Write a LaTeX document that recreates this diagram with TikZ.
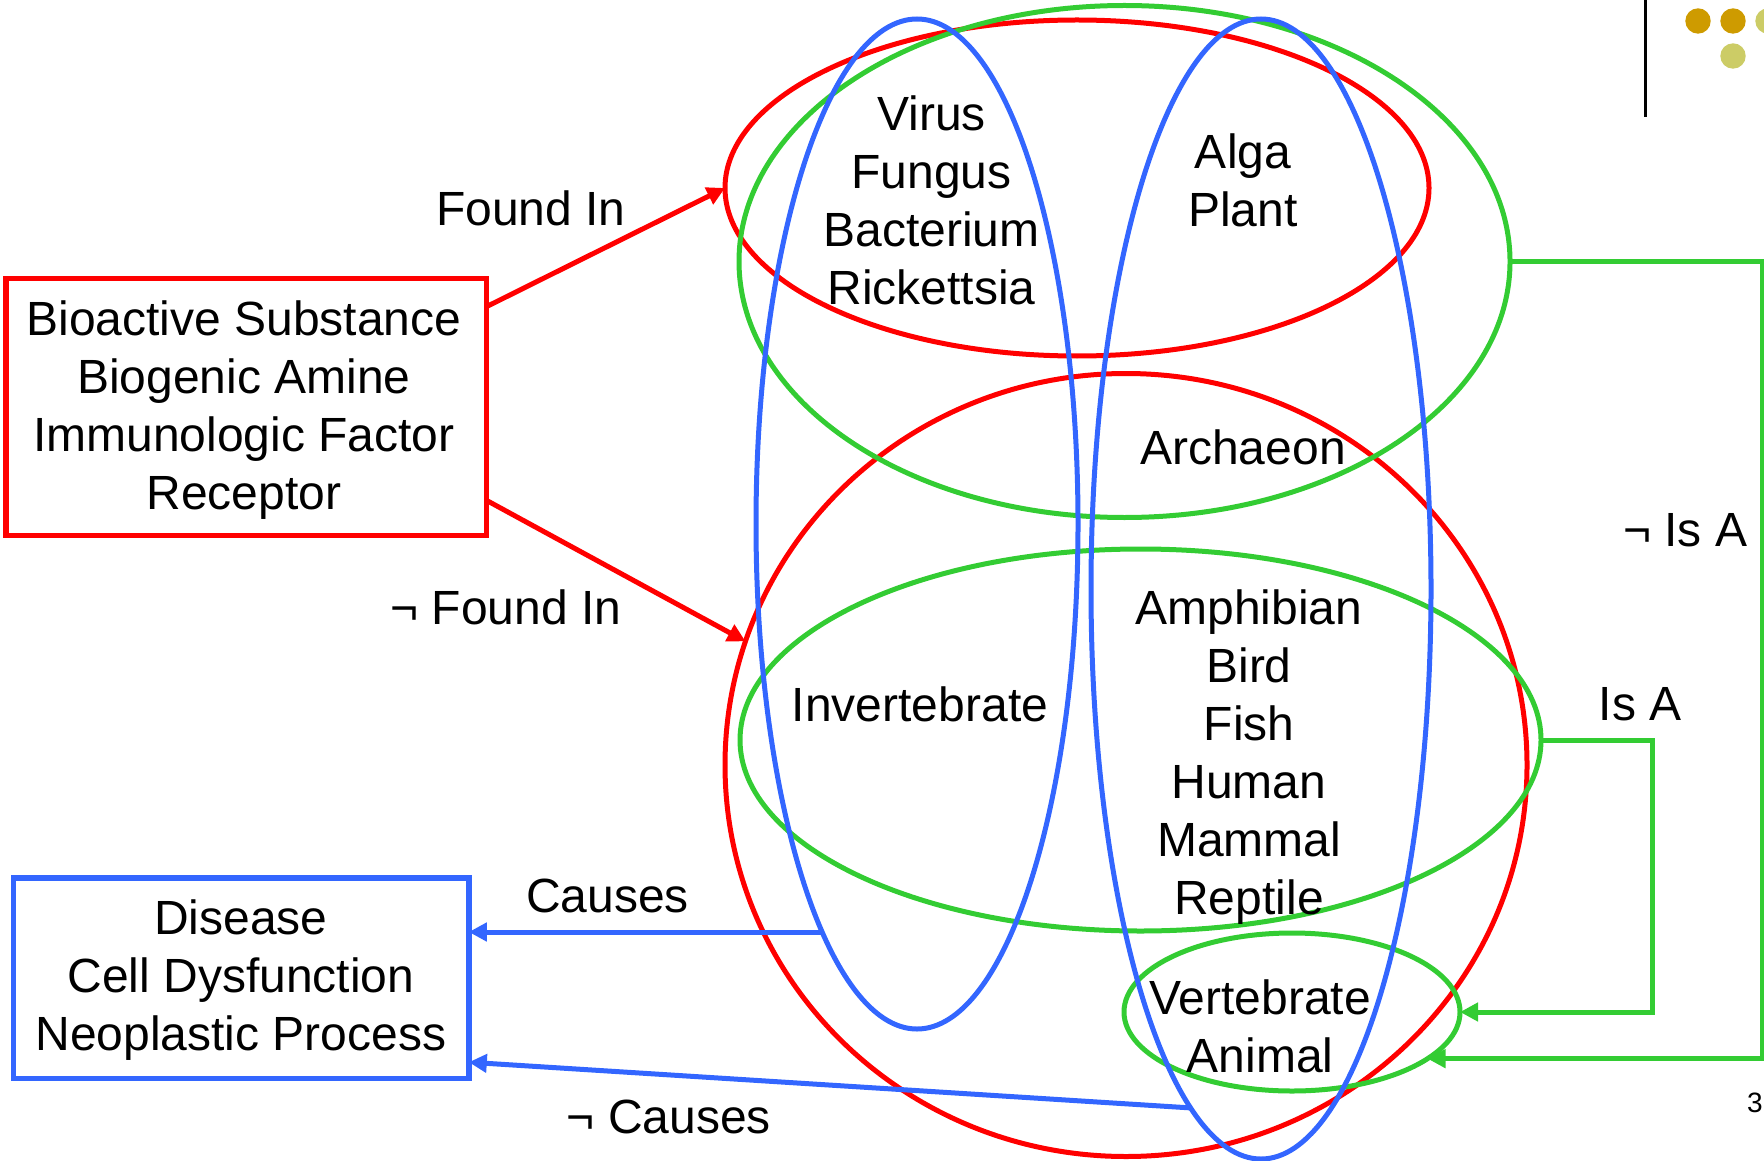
\documentclass[tikz,border=0pt]{standalone}
\usepackage{fontspec}
\setmainfont{Liberation Sans}
\usetikzlibrary{shapes.geometric,arrows.meta}
\definecolor{cred}{RGB}{255,0,0}
\definecolor{cblue}{RGB}{51,102,255}
\definecolor{cgreen}{RGB}{51,204,51}
\definecolor{cgold}{RGB}{206,155,0}
\definecolor{clight}{RGB}{204,204,102}
\tikzset{
  set/.style={ellipse, draw, line width=2.5pt, inner sep=0pt, outer sep=0pt},
  box/.style={draw, line width=2.7pt, inner sep=0pt, outer sep=0pt, align=center},
  txt/.style={align=center, inner sep=0pt, font=\fontsize{24}{29}\selectfont},
  conn/.style={line width=2.5pt, -{Triangle[length=9pt,width=9pt]}},
  dot/.style={circle, inner sep=0pt, minimum size=12.7pt},
}
\begin{document}
\begin{tikzpicture}[x=0.5pt,y=-0.5pt]
\useasboundingbox (0,0) rectangle (1764,1160);
% sets
\node[set, cred, minimum width=352pt, minimum height=168pt] (redtop) at (1077,188) {};
\node[set, cred, minimum width=401pt, minimum height=391.5pt] (redbig) at (1126,765) {};
\node[set, cgreen, minimum width=385.5pt, minimum height=256pt] (gtop) at (1124.5,261.5) {};
\node[set, cgreen, minimum width=400.5pt, minimum height=191pt] (gmid) at (1140.5,740) {};
\node[set, cgreen, minimum width=168pt, minimum height=79pt] (gsmall) at (1292,1012) {};
\node[set, cblue, minimum width=161pt, minimum height=505pt] (blueL) at (917,524) {};
\node[set, cblue, minimum width=170pt, minimum height=570pt] (blueR) at (1261,589) {};
% set contents
\node[txt] (t1) at (931.5,200.5) {Virus\\Fungus\\Bacterium\\Rickettsia};
\node[txt] (t2) at (1243,180) {Alga\\Plant};
\node[txt] (t3) at (1243,447) {Archaeon};
\node[txt] (t4) at (920,704) {Invertebrate};
\node[txt] (t5) at (1249,757) {Amphibian\\Bird\\Fish\\Human\\Mammal\\Reptile};
\node[txt] (t6) at (1260,1026.5) {Vertebrate\\Animal};
% boxes
\node[box, cred, minimum width=240.2pt, minimum height=128.2pt] (rbox) at (246,407) {};
\node[txt] (rboxt) at (244,410.5) {Bioactive Substance\\Biogenic Amine\\Immunologic Factor\\Receptor};
\node[box, cblue, minimum width=227.8pt, minimum height=100.2pt] (bbox) at (241,978) {};
\node[txt] (bboxt) at (241,980.5) {Disease\\Cell Dysfunction\\Neoplastic Process};
% connector end points on the sets
\coordinate (cStart) at ([shift={(-95,408)}]blueL.center);
\coordinate (ncStart) at ([shift={(-69,519)}]blueR.center);
\coordinate (farR) at (1762,0);
\coordinate (midR) at (1652,0);
% connectors
\draw[conn, cred] ([yshift=-14pt]rbox.north east) -- (redtop.west);
\draw[conn, cred] ([yshift=17.5pt]rbox.south east) -- (redbig.162);
\draw[conn, cblue] (cStart) -- (cStart -| bbox.east);
\draw[conn, cblue] (ncStart) -- ([yshift=8pt]bbox.south east);
\draw[conn, cgreen] (gtop.east) -- (gtop.east -| farR) |- (gsmall.-19);
\draw[conn, cgreen] (gmid.east) -- (gmid.east -| midR) |- (gsmall.east);
% labels
\node[txt] (l1) at (531,208) {Found In};
\node[txt] (l2) at (506,607.5) {¬ Found In};
\node[txt] (l3) at (607.5,895.5) {Causes};
\node[txt] (l4) at (669,1117) {¬ Causes};
\node[txt] (l5) at (1685,530) {¬ Is A};
\node[txt] (l6) at (1640,704) {Is A};
\node[inner sep=0pt, font=\fontsize{14}{16}\selectfont] (pg) at (1755,1103) {3};
% decoration top right
\draw[line width=1.5pt] (1645,0) -- (1645,117);
\node[dot, fill=cgold] (d1) at (1698,21) {};
\node[dot, fill=cgold] (d2) at (1733,21) {};
\node[dot, fill=clight] (d3) at (1768,21) {};
\node[dot, fill=clight] (d4) at (1733,56) {};
\end{tikzpicture}
\end{document}
